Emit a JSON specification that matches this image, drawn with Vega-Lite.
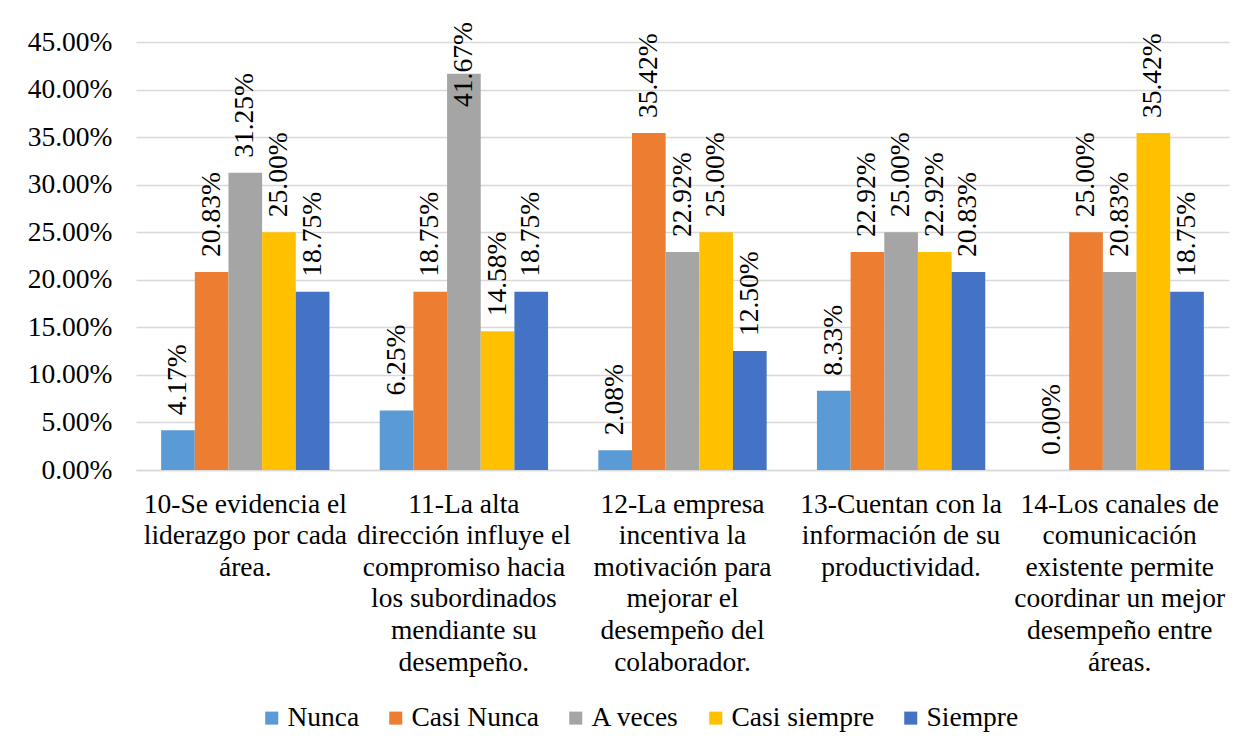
{
  "$schema": "https://vega.github.io/schema/vega-lite/v6.json",
  "width": 1093,
  "height": 428,
  "autosize": {"type": "none"},
  "padding": {"left": 136, "top": 42, "right": 17, "bottom": 281},
  "background": "white",
  "config": {
    "view": {"stroke": null},
    "font": "Liberation Serif"
  },
  "data": {
    "values": [
      {"pregunta": "10-Se evidencia el\nliderazgo por cada\nárea.", "respuesta": "Nunca", "valor": 0.0417},
      {"pregunta": "10-Se evidencia el\nliderazgo por cada\nárea.", "respuesta": "Casi Nunca", "valor": 0.2083},
      {"pregunta": "10-Se evidencia el\nliderazgo por cada\nárea.", "respuesta": "A veces", "valor": 0.3125},
      {"pregunta": "10-Se evidencia el\nliderazgo por cada\nárea.", "respuesta": "Casi siempre", "valor": 0.25},
      {"pregunta": "10-Se evidencia el\nliderazgo por cada\nárea.", "respuesta": "Siempre", "valor": 0.1875},
      {"pregunta": "11-La alta\ndirección influye el\ncompromiso hacia\nlos subordinados\nmendiante su\ndesempeño.", "respuesta": "Nunca", "valor": 0.0625},
      {"pregunta": "11-La alta\ndirección influye el\ncompromiso hacia\nlos subordinados\nmendiante su\ndesempeño.", "respuesta": "Casi Nunca", "valor": 0.1875},
      {"pregunta": "11-La alta\ndirección influye el\ncompromiso hacia\nlos subordinados\nmendiante su\ndesempeño.", "respuesta": "A veces", "valor": 0.4167},
      {"pregunta": "11-La alta\ndirección influye el\ncompromiso hacia\nlos subordinados\nmendiante su\ndesempeño.", "respuesta": "Casi siempre", "valor": 0.1458},
      {"pregunta": "11-La alta\ndirección influye el\ncompromiso hacia\nlos subordinados\nmendiante su\ndesempeño.", "respuesta": "Siempre", "valor": 0.1875},
      {"pregunta": "12-La empresa\nincentiva la\nmotivación para\nmejorar el\ndesempeño del\ncolaborador.", "respuesta": "Nunca", "valor": 0.0208},
      {"pregunta": "12-La empresa\nincentiva la\nmotivación para\nmejorar el\ndesempeño del\ncolaborador.", "respuesta": "Casi Nunca", "valor": 0.3542},
      {"pregunta": "12-La empresa\nincentiva la\nmotivación para\nmejorar el\ndesempeño del\ncolaborador.", "respuesta": "A veces", "valor": 0.2292},
      {"pregunta": "12-La empresa\nincentiva la\nmotivación para\nmejorar el\ndesempeño del\ncolaborador.", "respuesta": "Casi siempre", "valor": 0.25},
      {"pregunta": "12-La empresa\nincentiva la\nmotivación para\nmejorar el\ndesempeño del\ncolaborador.", "respuesta": "Siempre", "valor": 0.125},
      {"pregunta": "13-Cuentan con la\ninformación de su\nproductividad.", "respuesta": "Nunca", "valor": 0.0833},
      {"pregunta": "13-Cuentan con la\ninformación de su\nproductividad.", "respuesta": "Casi Nunca", "valor": 0.2292},
      {"pregunta": "13-Cuentan con la\ninformación de su\nproductividad.", "respuesta": "A veces", "valor": 0.25},
      {"pregunta": "13-Cuentan con la\ninformación de su\nproductividad.", "respuesta": "Casi siempre", "valor": 0.2292},
      {"pregunta": "13-Cuentan con la\ninformación de su\nproductividad.", "respuesta": "Siempre", "valor": 0.2083},
      {"pregunta": "14-Los canales de\ncomunicación\nexistente permite\ncoordinar un mejor\ndesempeño entre\náreas.", "respuesta": "Nunca", "valor": 0.0},
      {"pregunta": "14-Los canales de\ncomunicación\nexistente permite\ncoordinar un mejor\ndesempeño entre\náreas.", "respuesta": "Casi Nunca", "valor": 0.25},
      {"pregunta": "14-Los canales de\ncomunicación\nexistente permite\ncoordinar un mejor\ndesempeño entre\náreas.", "respuesta": "A veces", "valor": 0.2083},
      {"pregunta": "14-Los canales de\ncomunicación\nexistente permite\ncoordinar un mejor\ndesempeño entre\náreas.", "respuesta": "Casi siempre", "valor": 0.3542},
      {"pregunta": "14-Los canales de\ncomunicación\nexistente permite\ncoordinar un mejor\ndesempeño entre\náreas.", "respuesta": "Siempre", "valor": 0.1875}
    ]
  },
  "encoding": {
    "x": {
      "field": "pregunta",
      "type": "nominal",
      "sort": null,
      "scale": {"paddingInner": 0.23, "paddingOuter": 0.115},
      "axis": {
        "title": null,
        "labelAngle": 0,
        "labelFont": "Liberation Serif",
        "labelColor": "#000000",
        "labelFontSize": 27.5,
        "labelLineHeight": 31.6,
        "labelPadding": 20,
        "labelBaseline": "top",
        "labelExpr": "split(datum.label, '\\n')",
        "labelLimit": 0,
        "labelOverlap": false,
        "ticks": false,
        "domain": true,
        "domainColor": "#d9d9d9",
        "domainWidth": 1.5,
        "grid": false
      }
    },
    "xOffset": {"field": "respuesta", "type": "nominal", "sort": ["Nunca", "Casi Nunca", "A veces", "Casi siempre", "Siempre"]}
  },
  "layer": [
    {
      "mark": {"type": "bar"},
      "encoding": {
        "y": {
          "field": "valor",
          "type": "quantitative",
          "scale": {"domain": [0, 0.45], "nice": false},
          "axis": {
            "title": null,
            "format": ".2%",
            "values": [0, 0.05, 0.1, 0.15, 0.2, 0.25, 0.3, 0.35, 0.4, 0.45],
            "labelFont": "Liberation Serif",
            "labelColor": "#000000",
            "labelFontSize": 27.5,
            "labelPadding": 24,
            "ticks": false,
            "domain": false,
            "gridColor": "#d9d9d9",
            "gridWidth": 1.5
          }
        },
        "color": {
          "field": "respuesta",
          "type": "nominal",
          "sort": ["Nunca", "Casi Nunca", "A veces", "Casi siempre", "Siempre"],
          "scale": {
            "domain": ["Nunca", "Casi Nunca", "A veces", "Casi siempre", "Siempre"],
            "range": ["#5B9BD5", "#ED7D31", "#A5A5A5", "#FFC000", "#4472C4"]
          },
          "legend": {
            "title": null,
            "orient": "none",
            "direction": "horizontal",
            "legendX": 122,
            "legendY": 662,
            "symbolType": "square",
            "symbolSize": 170,
            "symbolStrokeWidth": 0,
            "labelFont": "Liberation Serif",
            "labelFontSize": 27.5,
            "labelColor": "#000000",
            "labelOffset": 2,
            "columnPadding": 22
          }
        }
      }
    },
    {
      "transform": [{"calculate": "min(datum.valor, 0.366)", "as": "posicion"}],
      "mark": {
        "type": "text",
        "angle": -90,
        "align": "left",
        "baseline": "middle",
        "dx": 15,
        "font": "Liberation Serif",
        "fontSize": 27.5,
        "color": "#000000"
      },
      "encoding": {
        "y": {"field": "posicion", "type": "quantitative"},
        "text": {"field": "valor", "type": "quantitative", "format": ".2%"}
      }
    }
  ]
}
